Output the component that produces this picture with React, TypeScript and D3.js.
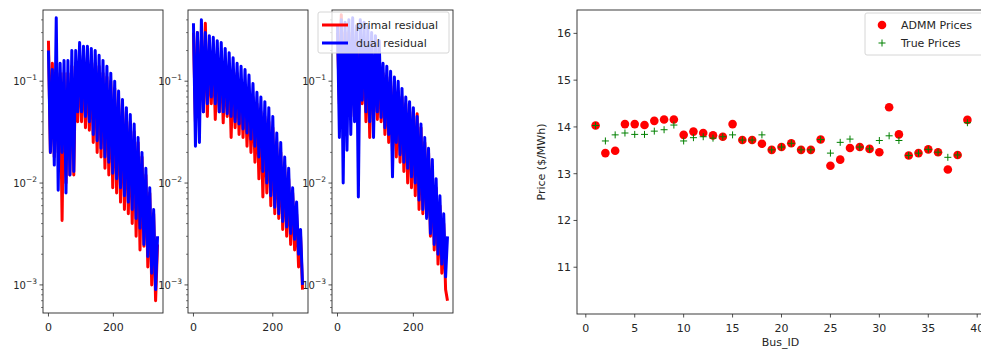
import React, { useEffect, useRef } from 'react'
import * as d3 from 'd3'

const W = 981
const H = 350

// residual histories (one value every `step` iterations)
const step1 = 6
const primal1 = [0.25, 0.02, 0.15, 0.018, 0.13, 0.02, 0.12, 0.0043, 0.12, 0.01, 0.12, 0.012, 0.14, 0.012, 0.15, 0.04, 0.18, 0.04, 0.17, 0.035, 0.17, 0.033, 0.16, 0.025, 0.15, 0.02, 0.14, 0.018, 0.12, 0.014, 0.11, 0.012, 0.1, 0.009, 0.085, 0.008, 0.07, 0.0065, 0.06, 0.0055, 0.05, 0.005, 0.04, 0.004, 0.032, 0.003, 0.025, 0.0022, 0.018, 0.0024, 0.012, 0.0015, 0.008, 0.001, 0.005, 0.0007, 0.0025]
const dual1 = [0.2, 0.02, 0.13, 0.015, 0.42, 0.0085, 0.15, 0.02, 0.16, 0.008, 0.16, 0.012, 0.2, 0.013, 0.2, 0.05, 0.24, 0.05, 0.22, 0.045, 0.22, 0.04, 0.21, 0.03, 0.2, 0.026, 0.18, 0.022, 0.16, 0.018, 0.14, 0.016, 0.12, 0.0125, 0.1, 0.011, 0.08, 0.009, 0.066, 0.0075, 0.055, 0.0065, 0.047, 0.0055, 0.038, 0.0045, 0.028, 0.0036, 0.02, 0.0025, 0.014, 0.0019, 0.009, 0.0013, 0.0055, 0.0009, 0.003]

const step2 = 5
const primal2 = [0.3, 0.04, 0.3, 0.06, 0.25, 0.05, 0.37, 0.045, 0.2, 0.06, 0.2, 0.042, 0.18, 0.05, 0.17, 0.039, 0.15, 0.045, 0.14, 0.028, 0.13, 0.035, 0.12, 0.03, 0.1, 0.028, 0.09, 0.023, 0.08, 0.02, 0.07, 0.016, 0.06, 0.011, 0.05, 0.0073, 0.045, 0.008, 0.04, 0.006, 0.035, 0.005, 0.025, 0.0045, 0.02, 0.0035, 0.015, 0.003, 0.011, 0.0025, 0.008, 0.0022, 0.005, 0.0015, 0.003, 0.0009]
const dual2 = [0.37, 0.023, 0.3, 0.025, 0.4, 0.05, 0.3, 0.06, 0.28, 0.07, 0.27, 0.06, 0.25, 0.05, 0.24, 0.05, 0.21, 0.048, 0.19, 0.045, 0.17, 0.04, 0.15, 0.038, 0.14, 0.034, 0.13, 0.031, 0.115, 0.027, 0.095, 0.023, 0.078, 0.018, 0.07, 0.013, 0.063, 0.01, 0.055, 0.0075, 0.045, 0.0058, 0.031, 0.005, 0.025, 0.0042, 0.018, 0.0037, 0.014, 0.0032, 0.009, 0.0028, 0.0065, 0.002, 0.0035, 0.001]

const step3 = 5
const primal3 = [0.3, 0.06, 0.45, 0.04, 0.3, 0.05, 0.3, 0.045, 0.3, 0.05, 0.25, 0.04, 0.25, 0.06, 0.22, 0.04, 0.2, 0.028, 0.2, 0.045, 0.18, 0.042, 0.15, 0.04, 0.12, 0.03, 0.11, 0.025, 0.1, 0.02, 0.09, 0.018, 0.08, 0.016, 0.07, 0.013, 0.06, 0.01, 0.055, 0.009, 0.05, 0.0075, 0.048, 0.0055, 0.035, 0.005, 0.025, 0.0047, 0.02, 0.003, 0.014, 0.0022, 0.009, 0.0016, 0.006, 0.0013, 0.004, 0.0009, 0.0007]
const dual3 = [0.35, 0.028, 0.4, 0.01, 0.38, 0.021, 0.4, 0.03, 0.42, 0.04, 0.35, 0.0073, 0.4, 0.065, 0.38, 0.05, 0.35, 0.04, 0.3, 0.028, 0.28, 0.05, 0.25, 0.044, 0.15, 0.035, 0.14, 0.03, 0.125, 0.0115, 0.11, 0.025, 0.1, 0.019, 0.085, 0.016, 0.07, 0.014, 0.063, 0.0115, 0.055, 0.01, 0.045, 0.0068, 0.038, 0.0055, 0.028, 0.0045, 0.022, 0.0032, 0.017, 0.0025, 0.011, 0.002, 0.0075, 0.0016, 0.005, 0.0012, 0.003]

const residualTicks = [1e-3, 1e-2, 1e-1]
const residualTickExp = ['\u22123', '\u22122', '\u22121']
const iterTicks = [0, 200]

// prices per bus
const busIds = [1, 2, 3, 4, 5, 6, 7, 8, 9, 10, 11, 12, 13, 14, 15, 16, 17, 18, 19, 20, 21, 22, 23, 24, 25, 26, 27, 28, 29, 30, 31, 32, 33, 34, 35, 36, 37, 38, 39]
const admmPrices = [14.03, 13.44, 13.49, 14.06, 14.06, 14.04, 14.13, 14.16, 14.16, 13.83, 13.9, 13.87, 13.82, 13.79, 14.06, 13.72, 13.72, 13.64, 13.51, 13.57, 13.65, 13.51, 13.51, 13.73, 13.17, 13.3, 13.55, 13.57, 13.53, 13.46, 14.42, 13.84, 13.39, 13.44, 13.52, 13.46, 13.09, 13.4, 14.15]
const truePrices = [14.03, 13.7, 13.83, 13.87, 13.84, 13.84, 13.91, 13.94, 14.04, 13.7, 13.77, 13.79, 13.76, 13.79, 13.83, 13.72, 13.72, 13.83, 13.51, 13.57, 13.65, 13.51, 13.51, 13.73, 13.44, 13.67, 13.74, 13.57, 13.53, 13.71, 13.81, 13.71, 13.39, 13.44, 13.52, 13.46, 13.35, 13.4, 14.09]
const priceTicks = [11, 12, 13, 14, 15, 16]
const busTicks = [0, 5, 10, 15, 20, 25, 30, 35, 40]

const FONT = '"DejaVu Sans", Verdana, sans-serif'
const INK = '#262626'
const LW = 3

function App() {
  const svgRef = useRef<SVGSVGElement>(null)

  useEffect(() => {
    const svg = d3.select(svgRef.current)
    svg.selectAll('*').remove()

    const top = 10
    const bottom = 313

    const panels = [
      { left: 43, right: 163, step: step1, primal: primal1, dual: dual1 },
      { left: 188, right: 308, step: step2, primal: primal2, dual: dual2 },
      { left: 332, right: 453, step: step3, primal: primal3, dual: dual3 },
    ]

    const y = d3.scaleLog().domain([0.00053, 0.5]).range([bottom, top])

    panels.forEach((p, k) => {
      const maxIt = (p.dual.length - 1) * p.step
      const x = d3.scaleLinear()
        .domain([-0.05 * maxIt, 1.05 * maxIt])
        .range([p.left, p.right])

      const g = svg.append('g')

      g.append('clipPath')
        .attr('id', `clip${k}`)
        .append('rect')
        .attr('x', p.left)
        .attr('y', top)
        .attr('width', p.right - p.left)
        .attr('height', bottom - top)

      const line = d3.line<number>()
        .x((d, i) => x(i * p.step))
        .y(d => y(d))

      g.append('path')
        .datum(p.primal)
        .attr('clip-path', `url(#clip${k})`)
        .attr('d', line)
        .attr('fill', 'none')
        .attr('stroke', '#ff0000')
        .attr('stroke-width', LW)
        .attr('stroke-linejoin', 'round')

      g.append('path')
        .datum(p.dual)
        .attr('clip-path', `url(#clip${k})`)
        .attr('d', line)
        .attr('fill', 'none')
        .attr('stroke', '#0000ff')
        .attr('stroke-width', LW)
        .attr('stroke-linejoin', 'round')

      g.append('rect')
        .attr('x', p.left)
        .attr('y', top)
        .attr('width', p.right - p.left)
        .attr('height', bottom - top)
        .attr('fill', 'none')
        .attr('stroke', INK)
        .attr('stroke-width', 0.9)

      // minor log ticks
      const minor: number[] = []
      for (let e = -4; e <= 0; e++) {
        for (let m = 2; m <= 9; m++) {
          const v = m * Math.pow(10, e)
          if (v > 0.00053 && v < 0.5) minor.push(v)
        }
      }
      g.selectAll('.minor')
        .data(minor)
        .enter().append('line')
        .attr('x1', p.left - 2)
        .attr('x2', p.left)
        .attr('y1', d => y(d))
        .attr('y2', d => y(d))
        .attr('stroke', INK)
        .attr('stroke-width', 0.6)

      g.selectAll('.major')
        .data(residualTicks)
        .enter().append('line')
        .attr('x1', p.left - 3.5)
        .attr('x2', p.left)
        .attr('y1', d => y(d))
        .attr('y2', d => y(d))
        .attr('stroke', INK)
        .attr('stroke-width', 0.8)

      const labels = g.selectAll('.ylab')
        .data(residualTicks)
        .enter().append('text')
        .attr('x', p.left - 6)
        .attr('y', d => y(d) + 4)
        .attr('text-anchor', 'end')
        .style('font-family', FONT)
        .style('font-size', '10px')
        .style('fill', INK)
      labels.append('tspan').text('10')
      labels.append('tspan')
        .attr('dy', -5)
        .style('font-size', '7.5px')
        .text((d, i) => residualTickExp[i])

      g.selectAll('.xtick')
        .data(iterTicks)
        .enter().append('line')
        .attr('x1', d => x(d))
        .attr('x2', d => x(d))
        .attr('y1', bottom)
        .attr('y2', bottom + 3.5)
        .attr('stroke', INK)
        .attr('stroke-width', 0.8)

      g.selectAll('.xlab')
        .data(iterTicks)
        .enter().append('text')
        .attr('x', d => x(d))
        .attr('y', bottom + 18)
        .attr('text-anchor', 'middle')
        .style('font-family', FONT)
        .style('font-size', '11px')
        .style('fill', INK)
        .text(d => d)
    })

    // residual legend (in the third panel)
    const lg = svg.append('g').attr('transform', 'translate(318,12)')
    lg.append('rect')
      .attr('width', 131)
      .attr('height', 41)
      .attr('rx', 2)
      .attr('fill', 'white')
      .attr('fill-opacity', 0.8)
      .attr('stroke', '#d6d6d6')
    const resEntries = [
      { label: 'primal residual', color: '#ff0000' },
      { label: 'dual residual', color: '#0000ff' },
    ]
    resEntries.forEach((e, i) => {
      lg.append('line')
        .attr('x1', 4).attr('x2', 30)
        .attr('y1', 13 + i * 18).attr('y2', 13 + i * 18)
        .attr('stroke', e.color)
        .attr('stroke-width', LW)
      lg.append('text')
        .attr('x', 38)
        .attr('y', 17 + i * 18)
        .style('font-family', FONT)
        .style('font-size', '11px')
        .style('fill', INK)
        .text(e.label)
    })

    // price scatter
    const sLeft = 577
    const sTop = 10
    const sBottom = 314
    const sx = d3.scaleLinear().domain([-0.9, 40.9]).range([sLeft, 986])
    const sy = d3.scaleLinear().domain([10, 16.5]).range([sBottom, sTop])

    const s = svg.append('g')

    s.selectAll('.admm')
      .data(admmPrices)
      .enter().append('circle')
      .attr('cx', (d, i) => sx(busIds[i]))
      .attr('cy', d => sy(d))
      .attr('r', 4.3)
      .attr('fill', '#ff0000')

    s.selectAll('.true')
      .data(truePrices)
      .enter().append('path')
      .attr('d', (d, i) => {
        const cx = sx(busIds[i])
        const cy = sy(d)
        return `M${cx - 3.5},${cy}h7M${cx},${cy - 3.5}v7`
      })
      .attr('stroke', '#008000')
      .attr('stroke-width', 1)

    s.append('rect')
      .attr('x', sLeft)
      .attr('y', sTop)
      .attr('width', 986 - sLeft)
      .attr('height', sBottom - sTop)
      .attr('fill', 'none')
      .attr('stroke', INK)
      .attr('stroke-width', 0.9)

    s.selectAll('.ytick')
      .data(priceTicks)
      .enter().append('line')
      .attr('x1', sLeft - 3.5).attr('x2', sLeft)
      .attr('y1', d => sy(d)).attr('y2', d => sy(d))
      .attr('stroke', INK)
      .attr('stroke-width', 0.8)

    s.selectAll('.ylab')
      .data(priceTicks)
      .enter().append('text')
      .attr('x', sLeft - 6)
      .attr('y', d => sy(d) + 4)
      .attr('text-anchor', 'end')
      .style('font-family', FONT)
      .style('font-size', '11px')
      .style('fill', INK)
      .text(d => d)

    s.selectAll('.xtick')
      .data(busTicks)
      .enter().append('line')
      .attr('x1', d => sx(d)).attr('x2', d => sx(d))
      .attr('y1', sBottom).attr('y2', sBottom + 3.5)
      .attr('stroke', INK)
      .attr('stroke-width', 0.8)

    s.selectAll('.xlab')
      .data(busTicks)
      .enter().append('text')
      .attr('x', d => sx(d))
      .attr('y', sBottom + 18)
      .attr('text-anchor', 'middle')
      .style('font-family', FONT)
      .style('font-size', '11px')
      .style('fill', INK)
      .text(d => d)

    s.append('text')
      .attr('x', (sLeft + 986) / 2 - 1)
      .attr('y', 346)
      .attr('text-anchor', 'middle')
      .style('font-family', FONT)
      .style('font-size', '11px')
      .style('fill', INK)
      .text('Bus_ID')

    s.append('text')
      .attr('transform', `translate(545,${(sTop + sBottom) / 2}) rotate(-90)`)
      .attr('text-anchor', 'middle')
      .style('font-family', FONT)
      .style('font-size', '11px')
      .style('fill', INK)
      .text('Price ($/MWh)')

    // price legend
    const pl = s.append('g').attr('transform', 'translate(865,13)')
    pl.append('rect')
      .attr('width', 130)
      .attr('height', 42)
      .attr('rx', 2)
      .attr('fill', 'white')
      .attr('fill-opacity', 0.8)
      .attr('stroke', '#d6d6d6')
    pl.append('circle')
      .attr('cx', 17).attr('cy', 12).attr('r', 4.3)
      .attr('fill', '#ff0000')
    pl.append('path')
      .attr('d', 'M13.5,30h7M17,26.5v7')
      .attr('stroke', '#008000')
      .attr('stroke-width', 1)
    const priceLabels = ['ADMM Prices', 'True Prices']
    priceLabels.forEach((t, i) => {
      pl.append('text')
        .attr('x', 36)
        .attr('y', 16 + i * 18)
        .style('font-family', FONT)
        .style('font-size', '11px')
        .style('fill', INK)
        .text(t)
    })
  }, [])

  return (
    <svg
      ref={svgRef}
      width={W}
      height={H}
      style={{ position: 'absolute', left: 0, top: 0, background: 'white' }}
    />
  )
}

export default App
